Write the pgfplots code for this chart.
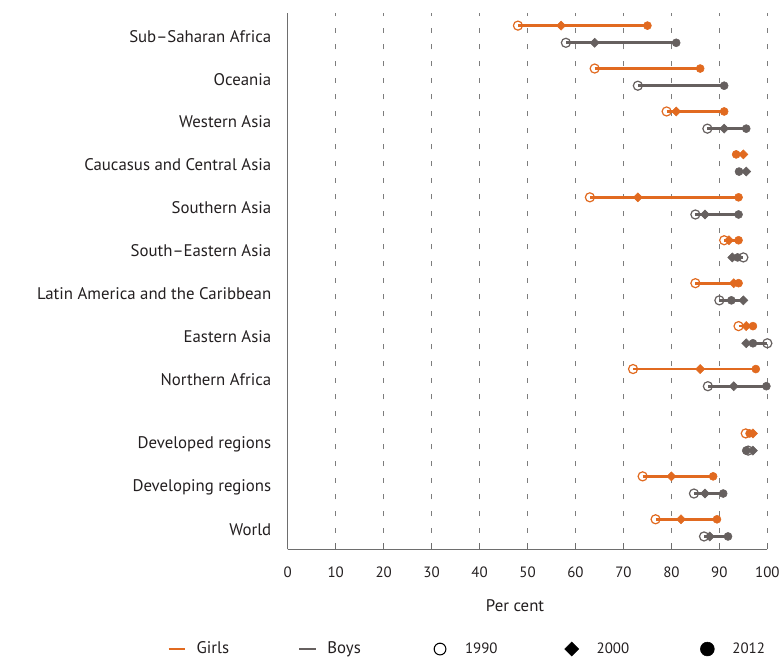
\documentclass[border=0pt]{standalone}
\usepackage{fontspec}
\setmainfont{PT Sans}
\usepackage{pgfplots}
\pgfplotsset{compat=1.18}
\usepackage{pgfplotstable}
\definecolor{cG}{RGB}{225,106,32}
\definecolor{cB}{RGB}{102,96,95}
\definecolor{cGrid}{RGB}{125,125,125}
\definecolor{cAx}{RGB}{110,110,110}
\definecolor{cTxt}{RGB}{35,31,32}
\pgfplotsset{
  shortlegend/.style={legend image code/.code={\path[draw=none,fill=none] (0pt,-1pt) rectangle (19pt,1pt); \draw[##1] (0pt,0pt) -- (12.5pt,0pt);}},
  markleg/.style={legend image code/.code={\path[draw=none,fill=none] (0pt,-1pt) rectangle (22pt,1pt); \draw[##1] plot coordinates {(5.25pt,0pt)};}},
}
\newcommand{\yr}{\fontsize{11.2}{13}\selectfont}

% y positions: girls (yg) slightly above, boys (yb) slightly below the category centre
\pgfplotstableread{
yg   yb   g90  g00  g12  b90  b00  b12
13.2 12.8 48   57   75   58   64   81
12.2 11.8 64   nan  86   73   nan  91
11.2 10.8 79   81   91   87.5 91   95.6
10.2 9.8  nan  95   93.5 nan  95.6 94.1
9.2  8.8  63   73   94   85   87   94
8.2  7.8  91   92   94   95   92.7 93.8
7.2  6.8  85   93   94   90   95   92.5
6.2  5.8  94   95.6 97   100  95.6 97
5.2  4.8  72   86   97.6 87.6 93   99.8
3.7  3.3  95.5 97   96.3 96   97   95.6
2.7  2.3  74   80   88.7 84.7 87   90.8
1.7  1.3  76.7 82   89.5 86.8 88   91.8
}\data

\begin{document}
\fontsize{12.6}{15}\selectfont
\color{cTxt}
\begin{tikzpicture}
\begin{axis}[
  at={(0pt,0pt)}, anchor=south west,
  scale only axis, width=359.7pt, height=402.45pt,
  xmin=0, xmax=100, ymin=1, ymax=13.5,
  clip=false,
  axis lines*=left,
  axis line style={cAx, line width=0.8pt},
  xtick={0,10,...,100},
  tick align=inside,
  major tick length=4.5pt,
  every tick/.style={cAx, line width=0.8pt},
  /pgf/number format/assume math mode=true,
  xticklabel style={anchor=base, yshift=-21pt, text=cTxt, font=\yr},
  ytick={13,12,11,10,9,8,7,6,5,3.5,2.5,1.5},
  yticklabels={Sub--Saharan Africa, Oceania, Western Asia, Caucasus and Central Asia, Southern Asia, South--Eastern Asia, Latin America and the Caribbean, Eastern Asia, Northern Africa, Developed regions, Developing regions, World},
  ytick style={draw=none},
  y tick label style={xshift=-8pt, yshift=-1.5pt, text=cTxt},
  xmajorgrids,
  grid style={cGrid, line width=0.6pt, dash pattern=on 3.75pt off 8.75pt},
  xlabel={Per cent},
  xlabel style={at={(axis description cs:0.474,0)}, anchor=base, yshift=-46.3pt, text=cTxt},
  legend columns=5,
  legend style={draw=none, fill=none, inner sep=0pt, column sep=0pt,
    at={(axis description cs:-0.2515,-0.1858)}, anchor=west,
    nodes={inner sep=2pt},
    font=\fontsize{12.6}{15}\selectfont, text=cTxt},
]
% connecting lines
\addplot[cG, line width=2pt, unbounded coords=jump, forget plot] coordinates {
 (48,13.2)(75,13.2) (nan,nan) (64,12.2)(86,12.2) (nan,nan) (79,11.2)(91,11.2) (nan,nan)
 (93.5,10.2)(95,10.2) (nan,nan) (63,9.2)(94,9.2) (nan,nan) (91,8.2)(94,8.2) (nan,nan)
 (85,7.2)(94,7.2) (nan,nan) (94,6.2)(97,6.2) (nan,nan) (72,5.2)(97.6,5.2) (nan,nan)
 (95.5,3.7)(97,3.7) (nan,nan) (74,2.7)(88.7,2.7) (nan,nan) (76.7,1.7)(89.5,1.7)};
\addplot[cB, line width=2pt, unbounded coords=jump, forget plot] coordinates {
 (58,12.8)(81,12.8) (nan,nan) (73,11.8)(91,11.8) (nan,nan) (87.5,10.8)(95.6,10.8) (nan,nan)
 (94.1,9.8)(95.6,9.8) (nan,nan) (85,8.8)(94,8.8) (nan,nan) (92.7,7.8)(95,7.8) (nan,nan)
 (90,6.8)(95,6.8) (nan,nan) (95.6,5.8)(100,5.8) (nan,nan) (87.6,4.8)(99.8,4.8) (nan,nan)
 (95.6,3.3)(97,3.3) (nan,nan) (84.7,2.3)(90.8,2.3) (nan,nan) (86.8,1.3)(91.8,1.3)};
% 1990
\addplot[only marks, forget plot, mark=o, mark size=3.4pt, mark options={cG, line width=0.9pt}] table[x=g90, y=yg] {\data};
\addplot[only marks, forget plot, mark=o, mark size=3.4pt, mark options={cB, line width=0.9pt}] table[x=b90, y=yb] {\data};
% 2000
\addplot[only marks, forget plot, mark=square*, mark size=2.4pt, mark options={cG, rotate=45}] table[x=g00, y=yg] {\data};
\addplot[only marks, forget plot, mark=square*, mark size=2.4pt, mark options={cB, rotate=45}] table[x=b00, y=yb] {\data};
% 2012
\addplot[only marks, forget plot, mark=*, mark size=3pt, mark options={cG}] table[x=g12, y=yg] {\data};
\addplot[only marks, forget plot, mark=*, mark size=3pt, mark options={cB}] table[x=b12, y=yb] {\data};
% legend
\addlegendimage{cG, line width=2pt, shortlegend}
\addlegendentry{\makebox[74pt][l]{Girls}}
\addlegendimage{cB, line width=2pt, shortlegend}
\addlegendentry{\makebox[77.25pt][l]{Boys}}
\addlegendimage{only marks, mark=o, mark size=4.4pt, mark options={black, line width=0.8pt}, markleg}
\addlegendentry{\makebox[72.75pt][l]{\yr 1990}}
\addlegendimage{only marks, mark=square*, mark size=3.7pt, mark options={black, rotate=45}, markleg}
\addlegendentry{\makebox[75.75pt][l]{\yr 2000}}
\addlegendimage{only marks, mark=*, mark size=5.2pt, mark options={black}, markleg}
\addlegendentry{\yr 2012}
\end{axis}
\pgfresetboundingbox
\useasboundingbox (-215.8pt,-81.5pt) rectangle (370.7pt,412pt);
\end{tikzpicture}
\end{document}
